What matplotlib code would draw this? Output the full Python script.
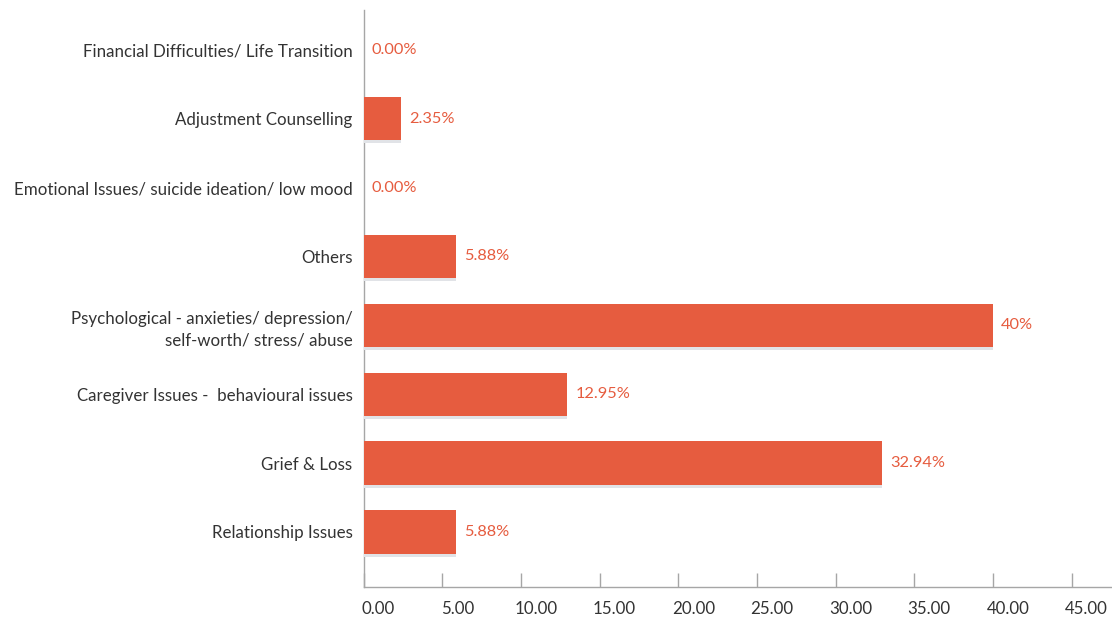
import matplotlib
matplotlib.use("Agg")
import matplotlib.pyplot as plt
import matplotlib.patheffects as pe
from matplotlib.transforms import ScaledTranslation

categories = [
    "Relationship Issues",
    "Grief & Loss",
    "Caregiver Issues -  behavioural issues",
    "Psychological - anxieties/ depression/\nself-worth/ stress/ abuse",
    "Others",
    "Emotional Issues/ suicide ideation/ low mood",
    "Adjustment Counselling",
    "Financial Difficulties/ Life Transition",
]
values = [5.88, 32.94, 12.95, 40.0, 5.88, 0.0, 2.35, 0.0]
value_labels = ["5.88%", "32.94%", "12.95%", "40%", "5.88%", "0.00%", "2.35%", "0.00%"]
x_ticks = [0, 5, 10, 15, 20, 25, 30, 35, 40, 45]
x_tick_labels = ["0.00", "5.00", "10.00", "15.00", "20.00", "25.00",
                 "30.00", "35.00", "40.00", "45.00"]

BAR = "#E65C3F"
TEXT = "#333333"
AXIS = "#A6A6A6"

plt.rcParams["font.family"] = ["Lato", "DejaVu Sans"]

fig = plt.figure(figsize=(11.12, 6.18), dpi=100)
ax = fig.add_axes([0.327, 0.050, 0.673, 0.934])

ypos = list(range(len(categories)))
bars = ax.barh(ypos, values, height=0.63, color=BAR, zorder=3)
for b in bars:
    b.set_path_effects([
        pe.SimplePatchShadow(offset=(0, -2.2), shadow_rgbFace="#E1E3E7", alpha=1.0),
        pe.Normal(),
    ])

for y, v, lab in zip(ypos, values, value_labels):
    ax.annotate(lab, xy=(v, y), xytext=(6, 0), textcoords="offset points",
                ha="left", va="center", color=BAR, fontsize=11.8)

ax.set_xlim(0, 47.57)
ax.set_ylim(-0.8, 7.58)
ax.set_yticks(ypos)
ax.set_yticklabels(categories, fontsize=12.2, color=TEXT, linespacing=1.45)

# x tick labels sit slightly to the right of their tick marks
ax.set_xticks(x_ticks)
ax.set_xticklabels([])
lab_offset = ScaledTranslation(15 / 100, -22 / 100, fig.dpi_scale_trans)
for x, lab in zip(x_ticks, x_tick_labels):
    ax.text(x, 0, lab, transform=ax.get_xaxis_transform() + lab_offset,
            ha="center", va="center", fontsize=12.2, color=TEXT, clip_on=False)

ax.tick_params(axis="y", length=0, pad=8)
ax.tick_params(axis="x", direction="in", length=10, width=1, color=AXIS)

for s in ("top", "right"):
    ax.spines[s].set_visible(False)
for s in ("left", "bottom"):
    ax.spines[s].set_color(AXIS)
    ax.spines[s].set_linewidth(1)

fig.savefig("out.png", dpi=100)
